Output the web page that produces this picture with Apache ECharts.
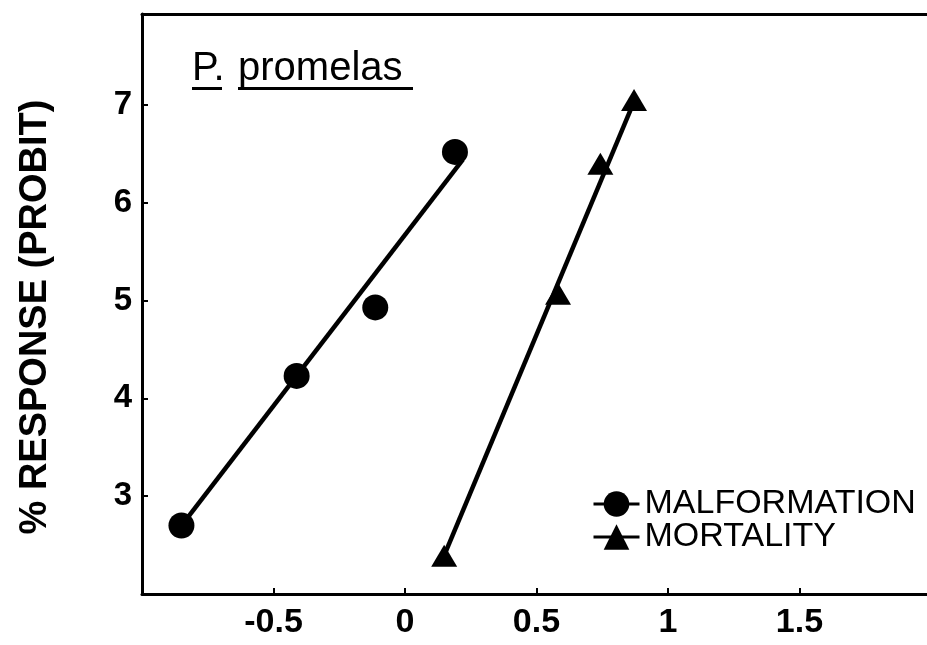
<!DOCTYPE html>
<html>
<head>
<meta charset="utf-8">
<script src="https://cdn.jsdelivr.net/npm/echarts@6/dist/echarts.min.js"></script>
<style>
  html, body { margin: 0; padding: 0; background: #fff; }
  #chart { width: 927px; height: 645px; }
</style>
</head>
<body>
<div id="chart"></div>
<script>
// Observed responses (x: log concentration, y: probit)
const malformationX = [-0.85, -0.412, -0.113, 0.19];
const malformationY = [2.70, 4.23, 4.93, 6.52];
const mortalityX = [0.149, 0.582, 0.743, 0.871];
const mortalityY = [2.39, 5.07, 6.40, 7.05];

// Fitted probit lines (end points)
const malformationFitX = [-0.85, 0.22];
const malformationFitY = [2.70, 6.44];
const mortalityFitX = [0.15, 0.87];
const mortalityFitY = [2.40, 7.03];

// Axis tick labels shown
const xTickLabels = [-0.5, 0, 0.5, 1, 1.5];
const yTickLabels = [3, 4, 5, 6, 7];

const seriesNames = ['MALFORMATION', 'MORTALITY'];
const titleParts = ['P.', 'promelas'];
const yTitle = '% RESPONSE (PROBIT)';

const pairs = (xs, ys) => xs.map((x, i) => [x, ys[i]]);
const FONT = '"Liberation Sans", Arial, Helvetica, sans-serif';

const chart = echarts.init(document.getElementById('chart'), null, { renderer: 'canvas' });

const fitLine = (xs, ys) => ({
  type: 'line',
  data: pairs(xs, ys),
  symbol: 'none',
  silent: true,
  z: 2,
  lineStyle: { color: '#000', width: 4.5 }
});

const axisLine = { show: true, onZero: false, lineStyle: { color: '#000', width: 3 } };
const tickStyle = { color: '#000', width: 2 };

chart.setOption({
  animation: false,
  backgroundColor: '#fff',
  grid: { left: 142, top: 14, width: 785, height: 580, show: false, containLabel: false },
  xAxis: [
    {
      type: 'value', min: -1, max: 1.985,
      axisLine,
      axisTick: { show: true, inside: true, length: 6, lineStyle: tickStyle, customValues: xTickLabels },
      splitLine: { show: false },
      axisLabel: {
        margin: 12, color: '#000', fontSize: 34, fontWeight: 'bold', fontFamily: FONT,
        customValues: xTickLabels
      }
    },
    {
      // frame line along the top of the plot
      type: 'value', position: 'top', min: -1, max: 1.985,
      axisLine, axisTick: { show: false }, axisLabel: { show: false }, splitLine: { show: false }
    }
  ],
  yAxis: {
    type: 'value', min: 2, max: 7.93,
    axisLine,
    axisTick: { show: true, inside: true, length: 6, lineStyle: tickStyle, customValues: yTickLabels },
    splitLine: { show: false },
    axisLabel: {
      margin: 10, color: '#000', fontSize: 33, fontWeight: 'bold', fontFamily: FONT,
      customValues: yTickLabels
    }
  },
  legend: {
    data: seriesNames,
    orient: 'vertical',
    left: 592, top: 487,
    padding: 0,
    itemWidth: 46, itemHeight: 32, itemGap: -1,
    selectedMode: false,
    textStyle: { color: '#000', fontSize: 34, fontFamily: FONT, lineHeight: 30 },
    lineStyle: { color: '#000', width: 3, opacity: 1 },
    itemStyle: { color: '#000', opacity: 1 }
  },
  series: [
    {
      name: seriesNames[0], type: 'line',
      data: pairs(malformationX, malformationY),
      symbol: 'circle', symbolSize: 26, showSymbol: true, z: 3,
      itemStyle: { color: '#000' },
      lineStyle: { color: '#000', width: 0, opacity: 0 }
    },
    {
      name: seriesNames[1], type: 'line',
      data: pairs(mortalityX, mortalityY),
      symbol: 'triangle', symbolSize: [26, 22], showSymbol: true, z: 3,
      itemStyle: { color: '#000' },
      lineStyle: { color: '#000', width: 0, opacity: 0 }
    },
    fitLine(malformationFitX, malformationFitY),
    fitLine(mortalityFitX, mortalityFitY)
  ],
  graphic: [
    {
      type: 'text', x: 192, y: 69, silent: true,
      style: { text: titleParts[0], font: '40px ' + FONT, fill: '#000', align: 'left', verticalAlign: 'middle' }
    },
    {
      type: 'text', x: 238, y: 69, silent: true,
      style: { text: titleParts[1], font: '40px ' + FONT, fill: '#000', align: 'left', verticalAlign: 'middle' }
    },
    { type: 'rect', shape: { x: 192, y: 87, width: 30, height: 3 }, style: { fill: '#000' }, silent: true },
    { type: 'rect', shape: { x: 238, y: 87, width: 175, height: 3 }, style: { fill: '#000' }, silent: true },
    {
      type: 'text', x: 36, y: 317, rotation: Math.PI / 2, silent: true,
      style: { text: yTitle, font: 'bold 38px ' + FONT, fill: '#000', align: 'center', verticalAlign: 'middle' }
    }
  ]
});
</script>
</body>
</html>
